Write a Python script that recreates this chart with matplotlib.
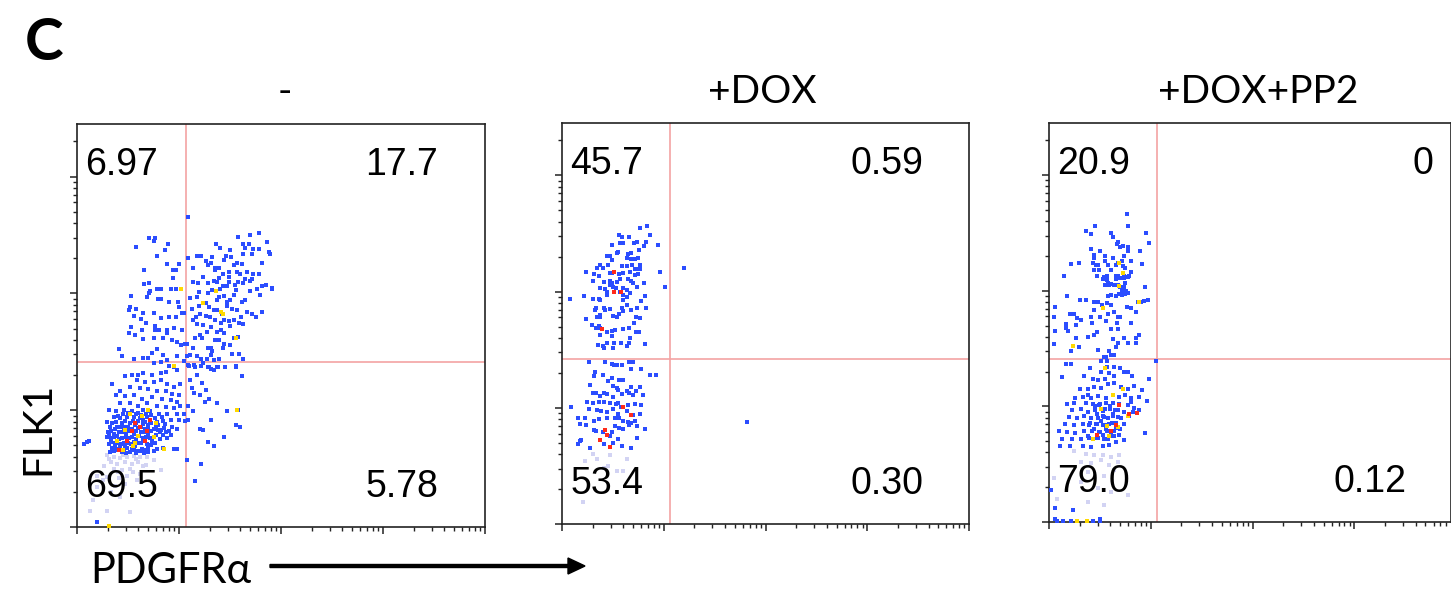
import numpy as np
import matplotlib
matplotlib.use('Agg')
import matplotlib.pyplot as plt

# 流式结果: PDGFRa (x) vs FLK1 (y), 数值均为 log10 荧光强度
titles = ['-', '+DOX', '+DOX+PP2']
quad_labels = [['6.97', '17.7', '69.5', '5.78'],
               ['45.7', '0.59', '53.4', '0.30'],
               ['20.9', '0', '79.0', '0.12']]
gate_x = [2.07, 2.06, 2.06]
gate_y = [2.41, 2.42, 2.41]

# ---------------- 对照组 (-) ----------------
ctrl_blue = [
    (1.71, 3.47), (1.76, 3.47), (1.75, 3.45), (1.58, 3.40), (1.89, 3.42), (1.86, 3.37), (1.78, 3.32),
    (1.88, 3.25), (2.00, 3.25), (1.66, 3.20), (1.94, 3.20), (1.97, 3.20), (1.94, 3.13), (1.71, 3.09),
    (1.66, 3.08), (1.78, 3.04), (1.82, 3.04), (1.92, 3.04), (1.97, 3.04), (1.53, 2.98), (1.72, 3.02),
    (1.71, 3.00), (1.69, 2.97), (1.79, 2.95), (1.82, 2.95), (1.90, 2.93), (1.99, 2.93), (1.52, 2.88),
    (1.51, 2.86), (1.58, 2.87), (1.65, 2.83), (1.75, 2.83), (1.82, 2.79), (1.90, 2.80), (1.97, 2.80),
    (2.00, 2.88), (2.03, 2.83), (2.05, 2.83), (1.56, 2.81), (1.63, 2.78), (1.68, 2.75), (1.53, 2.71),
    (1.64, 2.69), (1.76, 2.72), (1.76, 2.69), (1.80, 2.69), (1.88, 2.69), (1.95, 2.70), (2.03, 2.69),
    (1.51, 2.66), (1.57, 2.64), (1.65, 2.61), (1.75, 2.62), (1.84, 2.62), (1.88, 2.66), (1.93, 2.60),
    (1.98, 2.58), (2.02, 2.56), (2.06, 2.57), (1.41, 2.52), (1.44, 2.46), (1.56, 2.44), (1.65, 2.45),
    (1.70, 2.45), (1.74, 2.49), (1.78, 2.52), (1.84, 2.47), (1.88, 2.43), (1.98, 2.46), (2.09, 3.65),
    (2.09, 3.30), (2.14, 3.22), (2.18, 3.32), (2.22, 3.32), (2.26, 3.28), (2.28, 3.24), (2.31, 3.26),
    (2.32, 3.31), (2.35, 3.22), (2.39, 3.22), (2.40, 3.39), (2.36, 3.42), (2.44, 3.29), (2.46, 3.32),
    (2.50, 3.37), (2.51, 3.31), (2.54, 3.24), (2.57, 3.26), (2.58, 3.48), (2.63, 3.42), (2.65, 3.39),
    (2.63, 3.34), (2.69, 3.42), (2.70, 3.50), (2.72, 3.34), (2.73, 3.38), (2.78, 3.38), (2.78, 3.52),
    (2.86, 3.44), (2.89, 3.34), (2.81, 3.26), (2.78, 3.17), (2.73, 3.17), (2.67, 3.18), (2.62, 3.25),
    (2.60, 3.17), (2.57, 3.18), (2.49, 3.18), (2.49, 3.14), (2.43, 3.17), (2.39, 3.13), (2.35, 3.20),
    (2.14, 3.10), (2.19, 3.09), (2.24, 3.14), (2.28, 3.09), (2.34, 3.11), (2.37, 3.10), (2.40, 3.04),
    (2.43, 3.06), (2.47, 3.06), (2.49, 3.10), (2.55, 3.07), (2.58, 3.10), (2.63, 3.09), (2.65, 3.12),
    (2.70, 3.11), (2.72, 3.12), (2.76, 3.04), (2.81, 3.06), (2.85, 3.07), (2.91, 3.04), (2.79, 2.99),
    (2.70, 3.02), (2.65, 2.94), (2.62, 2.93), (2.56, 3.03), (2.54, 2.99), (2.50, 2.94), (2.47, 2.93),
    (2.44, 2.98), (2.39, 2.97), (2.37, 2.94), (2.32, 3.03), (2.28, 3.00), (2.20, 3.01), (2.18, 2.97),
    (2.11, 2.96), (2.13, 2.87), (2.20, 2.89), (2.26, 2.92), (2.29, 2.88), (2.34, 2.86), (2.37, 2.86),
    (2.42, 2.82), (2.47, 2.89), (2.52, 2.87), (2.57, 2.86), (2.61, 2.80), (2.63, 2.74), (2.67, 2.84),
    (2.72, 2.82), (2.75, 2.80), (2.81, 2.84), (2.59, 2.75), (2.54, 2.77), (2.49, 2.76), (2.44, 2.77),
    (2.41, 2.75), (2.35, 2.77), (2.30, 2.80), (2.26, 2.81), (2.21, 2.82), (2.17, 2.80), (2.14, 2.77),
    (2.18, 2.74), (2.24, 2.73), (2.27, 2.67), (2.31, 2.71), (2.37, 2.67), (2.41, 2.69), (2.44, 2.66),
    (2.50, 2.72), (2.54, 2.62), (2.58, 2.63), (2.50, 2.56), (2.44, 2.57), (2.39, 2.60), (2.35, 2.60),
    (2.31, 2.53), (2.32, 2.51), (2.28, 2.53), (2.23, 2.62), (2.21, 2.64), (2.16, 2.62), (2.14, 2.53),
    (2.08, 2.57), (2.11, 2.47), (2.18, 2.46), (2.22, 2.44), (2.27, 2.44), (2.31, 2.47), (2.34, 2.43),
    (2.39, 2.44), (2.43, 2.53), (2.52, 2.48), (2.59, 2.48), (2.63, 2.44), (2.56, 2.37), (2.45, 2.37),
    (2.37, 2.37), (2.29, 2.37), (2.24, 2.40), (2.15, 2.39), (2.10, 2.38), (2.08, 2.46), (2.05, 2.42),
    (2.91, 3.05), (2.88, 3.35),
    # 门右下象限
    (2.09, 2.39), (2.16, 2.37), (2.22, 2.38), (2.28, 2.37), (2.31, 2.35), (2.34, 2.34), (2.38, 2.37),
    (2.45, 2.37), (2.56, 2.38), (2.62, 2.29), (2.18, 2.30), (2.23, 2.23), (2.11, 2.26), (2.13, 2.19),
    (2.15, 2.15), (2.21, 2.13), (2.26, 2.17), (2.29, 2.10), (2.25, 2.07), (2.14, 1.99), (2.09, 2.04),
    (2.37, 2.06), (2.47, 1.99), (2.58, 2.00), (2.56, 1.87), (2.60, 1.86), (2.44, 1.77), (2.34, 1.69),
    (2.28, 1.73), (2.21, 1.84), (2.24, 1.83), (2.31, 1.92), (2.09, 1.92), (2.08, 1.57), (2.22, 1.54),
    (2.16, 1.39),
    # 左下象限
    (1.75, 2.40), (1.82, 2.41), (1.90, 2.38), (1.95, 2.37), (1.98, 2.34), (1.87, 2.33), (1.82, 2.32),
    (1.74, 2.30), (1.65, 2.32), (1.60, 2.30), (1.54, 2.30), (1.47, 2.29), (1.59, 2.26), (1.67, 2.24),
    (1.75, 2.24), (1.82, 2.26), (1.88, 2.22), (1.95, 2.20), (2.01, 2.22), (1.34, 2.22), (1.52, 2.20),
    (1.62, 2.19), (1.70, 2.18), (1.78, 2.16), (1.87, 2.16), (1.93, 2.14), (2.00, 2.13), (1.42, 2.16),
    (1.38, 2.13), (1.47, 2.12), (1.56, 2.13), (1.64, 2.10), (1.74, 2.11), (1.83, 2.10), (1.92, 2.09),
    (1.98, 2.07), (1.42, 2.06), (1.52, 2.06), (1.60, 2.04), (1.69, 2.06), (1.78, 2.04), (1.87, 2.03),
    (1.95, 2.02), (2.01, 2.04), (1.31, 2.00), (1.38, 1.99), (1.46, 2.00),
    (1.54, 1.99), (1.60, 1.98), (1.65, 2.00), (1.72, 1.99), (1.80, 1.97), (1.88, 1.97), (1.98, 1.97),
    (2.05, 1.97), (1.36, 1.94), (1.42, 1.93), (1.49, 1.94), (1.56, 1.94), (1.62, 1.93), (1.69, 1.94),
    (1.76, 1.93), (1.83, 1.94), (1.92, 1.92), (2.00, 1.92), (2.06, 1.91), (1.29, 1.90), (1.34, 1.89),
    (1.44, 1.89), (1.52, 1.89), (1.58, 1.89), (1.65, 1.88), (1.73, 1.89), (1.79, 1.87), (1.86, 1.88),
    (1.93, 1.86), (1.39, 1.86), (1.46, 1.84), (1.54, 1.84), (1.60, 1.85), (1.67, 1.84), (1.75, 1.84),
    (1.82, 1.83), (1.90, 1.82), (1.98, 1.84), (1.33, 1.82), (1.41, 1.81), (1.48, 1.80), (1.56, 1.80),
    (1.63, 1.81), (1.70, 1.80), (1.77, 1.79), (1.84, 1.79), (1.92, 1.79), (1.29, 1.77), (1.36, 1.77),
    (1.44, 1.76), (1.51, 1.76), (1.58, 1.75), (1.65, 1.76), (1.74, 1.74), (1.81, 1.75), (1.10, 1.73),
    (1.12, 1.74), (1.07, 1.71), (1.33, 1.73), (1.39, 1.72), (1.46, 1.72), (1.53, 1.71), (1.60, 1.72),
    (1.69, 1.71), (1.76, 1.72), (1.34, 1.68), (1.41, 1.67), (1.49, 1.68), (1.56, 1.66), (1.64, 1.67),
    (1.70, 1.68), (1.78, 1.67), (1.95, 1.67), (1.98, 1.67), (1.36, 1.65), (1.44, 1.64), (1.52, 1.64),
    (1.60, 1.65), (1.84, 1.68), (1.75, 1.65), (1.47, 1.69), (1.57, 1.69), (1.65, 1.74), (1.39, 1.78),
    (1.46, 1.86), (1.65, 1.92), (1.70, 1.87), (1.52, 1.82), (1.42, 1.69), (1.81, 1.81), (1.88, 1.76),
    (1.31, 1.79), (1.37, 1.69),
    (1.40, 1.95), (1.45, 1.97), (1.50, 1.98), (1.58, 1.97), (1.63, 1.96), (1.68, 1.97), (1.73, 1.96),
    (1.38, 1.90), (1.47, 1.91), (1.55, 1.91), (1.60, 1.91), (1.67, 1.90), (1.72, 1.91), (1.78, 1.90),
    (1.84, 1.91), (1.32, 1.86), (1.37, 1.84), (1.43, 1.86), (1.50, 1.86), (1.57, 1.87), (1.63, 1.86),
    (1.70, 1.85), (1.77, 1.86), (1.85, 1.85), (1.30, 1.81), (1.36, 1.80), (1.45, 1.81), (1.50, 1.83),
    (1.58, 1.82), (1.66, 1.81), (1.73, 1.82), (1.79, 1.83), (1.87, 1.81), (1.33, 1.76), (1.41, 1.75),
    (1.48, 1.77), (1.54, 1.77), (1.61, 1.78), (1.68, 1.77), (1.72, 1.76), (1.31, 1.71), (1.37, 1.72),
    (1.43, 1.71), (1.50, 1.72), (1.56, 1.73), (1.63, 1.72), (1.73, 1.70), (1.38, 1.66), (1.46, 1.65),
    (1.54, 1.67), (1.62, 1.65), (1.68, 1.66), (1.32, 1.64), (1.48, 1.63), (1.58, 1.63), (1.66, 1.63),
    (1.70, 1.64), (1.20, 1.04),
]
ctrl_yellow = [
    (2.02, 3.04), (2.36, 3.02), (2.24, 2.92), (2.41, 2.84), (2.43, 2.82), (2.56, 2.62), (1.95, 2.38),
    (2.57, 2.00), (1.52, 1.97), (1.64, 1.95), (1.77, 1.89), (1.47, 1.83), (1.60, 1.78), (1.75, 1.77),
    (1.39, 1.74), (1.85, 1.67), (1.57, 1.72), (1.70, 2.00), (1.45, 1.66), (1.55, 1.69), (1.31, 1.01),
]
ctrl_red = [(1.57, 1.89), (1.62, 1.86), (1.54, 1.82), (1.69, 1.82), (1.49, 1.74), (1.67, 1.74),
            (1.41, 1.66), (1.72, 1.92)]
ctrl_faint = [
    (1.29, 1.62), (1.36, 1.60), (1.42, 1.59), (1.49, 1.60), (1.56, 1.61), (1.62, 1.60), (1.69, 1.60),
    (1.33, 1.56), (1.39, 1.54), (1.47, 1.56), (1.54, 1.54), (1.60, 1.56), (1.26, 1.52), (1.36, 1.50),
    (1.44, 1.49), (1.52, 1.50), (1.65, 1.52), (1.75, 1.57), (1.82, 1.49), (1.20, 1.44), (1.29, 1.43),
    (1.41, 1.42), (1.49, 1.44), (1.59, 1.40), (1.20, 1.34), (1.33, 1.30), (1.42, 1.26), (1.52, 1.13),
    (1.29, 1.14), (1.13, 1.14), (1.16, 1.23), (1.31, 1.58), (1.45, 1.62), (1.58, 1.58), (1.40, 1.47),
    (1.55, 1.47), (1.25, 1.40), (1.47, 1.37), (1.37, 1.35), (1.62, 1.45), (1.68, 1.53),
]

# ---------------- +DOX ----------------
dox_blue = [
    (1.77, 3.55), (1.84, 3.56), (1.56, 3.49), (1.59, 3.47), (1.66, 3.47), (1.86, 3.49), (1.57, 3.42),
    (1.60, 3.42), (1.49, 3.40), (1.71, 3.42), (1.74, 3.43), (1.83, 3.43), (1.81, 3.39), (1.94, 3.40),
    (1.76, 3.36), (1.55, 3.34), (1.54, 3.33), (1.44, 3.31), (1.47, 3.31), (1.68, 3.33), (1.65, 3.32),
    (1.64, 3.29), (1.68, 3.28), (1.72, 3.28), (1.75, 3.29), (1.49, 3.27), (1.45, 3.23), (1.37, 3.23),
    (1.34, 3.20), (1.40, 3.20), (1.59, 3.22), (1.64, 3.22), (1.69, 3.23), (1.77, 3.23), (1.72, 3.19),
    (1.24, 3.17), (1.31, 3.15), (1.36, 3.13), (1.47, 3.16), (1.49, 3.16), (1.56, 3.15), (1.60, 3.16),
    (1.67, 3.17), (1.74, 3.19), (1.77, 3.19), (1.75, 3.15), (1.72, 3.14), (1.96, 3.17), (1.30, 3.09),
    (1.41, 3.08), (1.47, 3.09), (1.49, 3.07), (1.47, 3.06), (1.54, 3.08), (1.57, 3.11), (1.65, 3.11),
    (1.68, 3.09), (1.70, 3.07), (1.81, 3.07), (1.37, 3.03), (1.42, 3.02), (1.50, 3.04), (1.53, 3.03),
    (1.60, 3.03), (1.64, 3.01), (1.67, 2.99), (1.74, 3.04), (2.01, 3.04), (2.20, 3.20), (1.08, 2.94),
    (1.22, 2.96), (1.30, 2.94), (1.36, 2.94), (1.37, 2.93), (1.44, 3.00), (1.44, 2.97), (1.57, 3.00),
    (1.60, 2.97), (1.60, 2.93), (1.64, 2.95), (1.82, 2.96), (1.78, 2.92), (1.64, 2.88), (1.59, 2.86),
    (1.83, 2.86), (1.74, 2.86), (1.33, 2.86), (1.41, 2.86), (1.32, 2.84), (1.42, 2.84), (1.47, 2.85),
    (1.68, 2.84), (1.73, 2.78), (1.60, 2.83), (1.56, 2.81), (1.54, 2.78), (1.50, 2.79), (1.37, 2.80),
    (1.37, 2.78), (1.34, 2.78), (1.24, 2.76), (1.29, 2.71), (1.36, 2.70), (1.37, 2.69), (1.33, 2.69),
    (1.49, 2.66), (1.52, 2.67), (1.60, 2.68), (1.66, 2.69), (1.77, 2.77), (1.71, 2.73), (1.76, 2.65),
    (1.73, 2.65), (1.44, 2.65), (1.37, 2.63), (1.49, 2.62), (1.67, 2.60), (1.66, 2.56), (1.58, 2.56),
    (1.51, 2.56), (1.44, 2.56), (1.35, 2.54), (1.40, 2.53), (1.41, 2.51), (1.50, 2.51), (1.64, 2.53),
    (1.82, 2.55),
    (1.27, 2.39), (1.42, 2.39), (1.49, 2.38), (1.51, 2.37), (1.54, 2.37), (1.59, 2.37), (1.66, 2.39),
    (1.70, 2.39), (1.32, 2.31), (1.68, 2.33), (1.78, 2.33), (1.86, 2.28), (1.92, 2.28), (1.31, 2.27),
    (1.40, 2.28), (1.45, 2.23), (1.49, 2.26), (1.56, 2.24), (1.60, 2.24), (1.50, 2.19), (1.54, 2.17),
    (1.28, 2.20), (1.68, 2.18), (1.77, 2.18), (1.30, 2.13), (1.33, 2.13), (1.37, 2.10), (1.41, 2.13),
    (1.44, 2.12), (1.50, 2.09), (1.55, 2.15), (1.59, 2.12), (1.64, 2.14), (1.66, 2.13), (1.70, 2.11),
    (1.73, 2.14), (1.80, 2.11), (1.25, 2.05), (1.30, 2.04), (1.36, 2.05), (1.41, 2.05), (1.47, 2.04),
    (1.53, 2.03), (1.55, 2.04), (1.58, 2.01), (1.65, 2.02), (1.72, 2.03), (1.78, 2.02), (1.09, 2.01),
    (1.27, 1.99), (1.34, 1.98), (1.38, 1.97), (1.44, 1.96), (1.50, 1.99), (1.55, 1.95), (1.64, 1.97),
    (1.70, 1.94), (1.77, 1.95), (1.16, 1.91), (1.23, 1.91), (1.31, 1.89), (1.36, 1.90), (1.44, 1.91),
    (1.52, 1.91), (1.56, 1.91), (1.60, 1.89), (1.65, 1.88), (1.68, 1.87), (1.72, 1.89), (1.18, 1.86),
    (1.24, 1.85), (1.31, 1.81), (1.33, 1.80), (1.40, 1.79), (1.49, 1.79), (1.52, 1.84), (1.56, 1.83),
    (1.60, 1.82), (1.66, 1.85), (1.74, 1.84), (1.82, 1.82), (1.19, 1.72), (1.18, 1.71), (1.16, 1.69),
    (1.41, 1.69), (1.47, 1.76), (1.50, 1.70), (1.55, 1.73), (1.59, 1.67), (1.68, 1.65), (1.74, 1.74),
    (1.28, 1.65), (2.82, 1.88),
]
dox_red = [(1.51, 3.17), (1.51, 3.00), (1.58, 3.00), (1.39, 2.68), (1.60, 2.01), (1.68, 1.94),
           (1.42, 1.81), (1.44, 1.77), (1.37, 1.72), (1.47, 1.66)]
dox_faint = [(1.23, 1.54), (1.34, 1.56), (1.41, 1.48), (1.47, 1.59), (1.54, 1.46), (1.60, 1.46),
             (1.64, 1.56), (1.21, 1.19), (1.45, 1.50), (1.30, 1.60)]

# ---------------- +DOX+PP2 ----------------
pp2_blue = [
    (1.77, 3.66), (1.45, 3.56), (1.78, 3.56), (1.36, 3.52), (1.41, 3.49), (1.61, 3.50), (1.63, 3.46),
    (1.95, 3.50), (1.98, 3.41), (1.68, 3.42), (1.67, 3.40), (1.70, 3.38), (1.73, 3.39), (1.78, 3.38),
    (1.78, 3.34), (1.50, 3.34), (1.41, 3.36), (1.44, 3.31), (1.44, 3.28), (1.55, 3.30), (1.55, 3.26),
    (1.63, 3.28), (1.74, 3.30), (1.81, 3.26), (1.89, 3.34), (1.72, 3.26), (1.68, 3.24), (1.22, 3.23),
    (1.29, 3.24), (1.43, 3.24), (1.46, 3.22), (1.48, 3.22), (1.58, 3.22), (1.66, 3.22), (1.73, 3.21),
    (1.75, 3.20), (1.91, 3.23), (1.44, 3.18), (1.49, 3.18), (1.61, 3.18), (1.68, 3.13), (1.74, 3.13),
    (1.78, 3.12), (1.79, 3.13), (1.81, 3.16), (1.15, 3.13), (1.47, 3.13), (1.54, 3.12), (1.57, 3.13),
    (1.53, 3.10), (1.66, 3.13), (1.66, 3.10), (1.70, 3.11), (1.74, 3.11), (1.57, 3.09), (1.58, 3.07),
    (1.55, 3.05), (1.59, 3.05), (1.61, 3.06), (1.64, 3.05), (1.68, 3.05), (1.70, 3.03), (1.74, 3.03),
    (1.75, 3.07), (1.72, 3.00), (1.76, 3.00), (1.78, 2.98), (1.75, 2.97), (1.73, 2.99), (1.94, 3.03),
    (1.18, 2.95), (1.30, 2.92), (1.36, 2.92), (1.44, 2.90), (1.48, 2.90), (1.58, 2.95), (1.61, 2.96),
    (1.66, 2.95), (1.69, 2.97), (1.72, 2.96), (1.87, 2.90), (1.90, 2.90), (1.93, 2.91), (1.97, 2.92),
    (1.06, 2.86), (1.21, 2.80), (1.25, 2.80), (1.28, 2.76), (1.31, 2.75), (1.41, 2.77), (1.44, 2.83),
    (1.52, 2.88), (1.57, 2.89), (1.61, 2.88), (1.64, 2.82), (1.58, 2.80), (1.68, 2.77), (1.70, 2.77),
    (1.85, 2.82), (1.81, 2.85), (1.77, 2.86), (1.05, 2.77), (1.17, 2.71), (1.17, 2.68), (1.19, 2.65),
    (1.06, 2.65), (1.27, 2.70), (1.42, 2.72), (1.50, 2.77), (1.56, 2.74), (1.67, 2.72), (1.68, 2.67),
    (1.61, 2.67), (1.81, 2.72), (1.47, 2.64), (1.44, 2.62), (1.38, 2.60), (1.27, 2.59), (1.63, 2.58),
    (1.68, 2.55), (1.74, 2.59), (1.78, 2.55), (1.85, 2.59), (1.88, 2.62), (1.85, 2.55), (1.05, 2.54),
    (1.22, 2.48), (1.29, 2.51), (1.48, 2.49), (1.59, 2.48), (1.66, 2.51), (1.54, 2.43), (1.56, 2.43),
    (1.61, 2.44), (1.64, 2.44), (1.51, 2.39), (1.57, 2.39), (1.17, 2.37), (1.22, 2.37), (2.05, 2.39),
    (1.40, 2.33), (1.57, 2.34), (1.64, 2.34), (1.70, 2.33), (1.51, 2.30), (1.59, 2.29), (1.74, 2.30),
    (1.78, 2.30), (1.13, 2.25), (1.34, 2.26), (1.43, 2.24), (1.48, 2.23), (1.55, 2.24), (1.64, 2.26),
    (1.82, 2.26), (1.98, 2.24), (1.30, 2.15), (1.38, 2.15), (1.44, 2.17), (1.51, 2.16), (1.58, 2.19),
    (1.64, 2.20), (1.71, 2.17), (1.78, 2.15), (1.84, 2.18), (1.91, 2.14), (1.33, 2.08), (1.41, 2.07),
    (1.48, 2.09), (1.56, 2.07), (1.63, 2.10), (1.69, 2.08), (1.75, 2.10), (1.81, 2.07), (1.88, 2.08),
    (1.96, 2.05), (1.18, 2.02), (1.25, 2.03), (1.36, 2.03), (1.43, 2.02), (1.49, 2.01), (1.56, 2.03),
    (1.63, 2.03), (1.69, 2.02), (1.78, 2.01), (1.84, 1.99), (1.23, 1.97), (1.31, 1.98), (1.38, 1.95),
    (1.45, 1.97), (1.53, 1.96), (1.60, 1.98), (1.68, 1.97), (1.74, 1.95), (1.83, 1.95), (1.20, 1.91),
    (1.28, 1.90), (1.34, 1.92), (1.41, 1.90), (1.48, 1.90), (1.54, 1.91), (1.63, 1.92), (1.71, 1.90),
    (1.79, 1.92), (1.16, 1.85), (1.25, 1.84), (1.33, 1.85), (1.39, 1.84), (1.47, 1.85), (1.53, 1.84),
    (1.59, 1.85), (1.66, 1.86), (1.74, 1.85), (1.10, 1.79), (1.18, 1.78), (1.26, 1.77), (1.34, 1.79),
    (1.42, 1.79), (1.49, 1.78), (1.57, 1.79), (1.64, 1.79), (1.70, 1.80), (1.13, 1.72), (1.23, 1.72),
    (1.31, 1.72), (1.39, 1.73), (1.48, 1.73), (1.54, 1.72), (1.63, 1.74), (1.69, 1.75), (1.11, 1.66),
    (1.21, 1.66), (1.33, 1.66), (1.41, 1.65), (1.53, 1.66), (1.59, 1.67), (1.66, 1.69), (1.74, 1.71),
    (1.94, 1.77), (1.81, 2.04), (1.88, 1.97), (1.38, 2.10), (1.26, 2.07),
    (1.45, 2.00), (1.50, 2.02), (1.55, 1.98), (1.60, 2.00), (1.65, 1.97), (1.47, 1.93), (1.53, 1.92),
    (1.58, 1.90), (1.63, 1.93), (1.68, 1.91), (1.40, 1.86), (1.46, 1.85), (1.51, 1.87), (1.57, 1.84),
    (1.62, 1.86), (1.44, 1.80), (1.50, 1.78), (1.56, 1.80), (1.61, 1.78), (1.66, 1.81), (1.38, 1.74),
    (1.47, 1.73), (1.53, 1.75), (1.58, 1.72), (1.64, 1.74),
    (1.24, 1.10), (1.06, 1.03), (1.08, 1.01), (1.14, 1.01), (1.22, 1.01), (1.43, 1.01), (1.50, 1.025),
    (1.50, 1.01), (1.02, 1.28), (1.06, 1.12),
]
pp2_yellow = [(1.69, 3.24), (1.73, 3.15), (1.69, 3.04), (1.88, 2.90), (1.53, 2.85), (1.24, 2.52),
              (1.55, 2.33), (1.73, 2.15), (1.63, 2.10), (1.51, 1.98), (1.78, 1.92), (1.68, 1.82),
              (1.43, 1.72), (1.59, 1.74), (1.57, 1.83), (1.28, 1.01), (1.37, 1.01)]
pp2_red = [(1.69, 2.01), (1.86, 1.94), (1.66, 1.84), (1.47, 1.75), (1.79, 1.93), (1.61, 1.79)]
pp2_faint = [
    (1.25, 1.61), (1.36, 1.59), (1.44, 1.58), (1.53, 1.58), (1.61, 1.56), (1.69, 1.58), (1.31, 1.52),
    (1.41, 1.51), (1.51, 1.54), (1.59, 1.49), (1.68, 1.52), (1.38, 1.43), (1.54, 1.40), (1.64, 1.45),
    (1.31, 1.35), (1.48, 1.29), (1.61, 1.26), (1.05, 1.38), (1.38, 1.17), (1.54, 1.15), (1.78, 1.23),
    (1.08, 1.20),
]

panels = [
    dict(blue=ctrl_blue, yellow=ctrl_yellow, red=ctrl_red, faint=ctrl_faint),
    dict(blue=dox_blue, yellow=[], red=dox_red, faint=dox_faint),
    dict(blue=pp2_blue, yellow=pp2_yellow, red=pp2_red, faint=pp2_faint),
]

# 画布布局 (像素)
W, H = 1451, 592
boxes = [(77, 527, 408, 403), (562, 524, 407, 401), (1049, 522, 402, 399)]
xmax = [5.0, 5.0, 4.95]
ymin, ymax = 1.0, 4.45

plt.rcParams['font.family'] = ['Liberation Sans', 'DejaVu Sans']
fig = plt.figure(figsize=(W / 100, H / 100), dpi=100)


def log_ticks(lo, hi):
    major, minor = [], []
    for d in range(0, 6):
        for k in range(1, 10):
            v = d + np.log10(k)
            if lo <= v <= hi:
                (major if k == 1 else minor).append(v)
    return major, minor


def draw_panel(i):
    left, bottom, w, h = boxes[i]
    ax = fig.add_axes([left / W, (H - bottom) / H, w / W, h / H])
    p = panels[i]

    def dots(pts, color, size=5.5):
        if len(pts) == 0:
            return
        arr = np.array(pts)
        ax.scatter(arr[:, 0], arr[:, 1], s=size, c=color, marker='s', linewidths=0, zorder=3)

    dots(p['faint'], '#d2d3f3')
    dots(p['blue'], '#2b4dff')
    dots(p['yellow'], '#ffd900')
    dots(p['red'], '#ff2a1a')

    ax.axvline(gate_x[i], color='#f4a3a3', lw=1.2, zorder=2)
    ax.axhline(gate_y[i], color='#f4a3a3', lw=1.2, zorder=2)

    ax.set_xlim(1.0, xmax[i])
    ax.set_ylim(ymin, ymax)
    mj, mn = log_ticks(1.0, xmax[i])
    ax.set_xticks(mj)
    ax.set_xticks(mn, minor=True)
    mj, mn = log_ticks(ymin, ymax)
    ax.set_yticks(mj)
    ax.set_yticks(mn, minor=True)
    ax.set_xticklabels([])
    ax.set_yticklabels([])
    ax.tick_params(which='major', direction='out', length=5, width=1.1, color='#222222')
    ax.tick_params(which='minor', direction='out', length=3, width=1.0, color='#222222')
    for s in ax.spines.values():
        s.set_color('#222222')
        s.set_linewidth(1.2)

    ul, ur, ll, lr = quad_labels[i]
    fs = 27
    ax.text(0.02, 0.873, ul, transform=ax.transAxes, fontsize=fs, ha='left', va='baseline')
    ax.text(0.02, 0.075, ll, transform=ax.transAxes, fontsize=fs, ha='left', va='baseline')
    rx = [0.885, 0.887, 0.955][i]
    ax.text(rx, 0.873, ur, transform=ax.transAxes, fontsize=fs, ha='right', va='baseline')
    rx = [0.885, 0.887, 0.89][i]
    ax.text(rx, 0.075, lr, transform=ax.transAxes, fontsize=fs, ha='right', va='baseline')
    return ax


for i in range(3):
    draw_panel(i)

title_x = [285, 762, 1258]
for i in range(3):
    fig.text(title_x[i] / W, 1 - 103 / H, titles[i], fontsize=28, family=['Lato', 'DejaVu Sans'],
             ha='center', va='baseline')

fig.text(25 / W, 1 - 60 / H, 'C', fontsize=42, fontweight='bold', family=['Lato', 'DejaVu Sans'],
         ha='left', va='baseline')
fig.text(38 / W, 1 - 428 / H, 'FLK1', fontsize=29, family=['Lato', 'DejaVu Sans'], rotation=90,
         ha='center', va='center')
fig.text(90 / W, 1 - 583 / H, 'PDGFR\u03b1', fontsize=30, family=['Lato', 'DejaVu Sans'],
         ha='left', va='baseline')
fig.patches.append(matplotlib.patches.FancyArrow(270 / W, 1 - 566 / H, 298 / W, 0, width=3 / H,
                   head_width=16 / H, head_length=17 / W, length_includes_head=False,
                   color='black', transform=fig.transFigure, figure=fig))

fig.savefig('out.png', dpi=100)
